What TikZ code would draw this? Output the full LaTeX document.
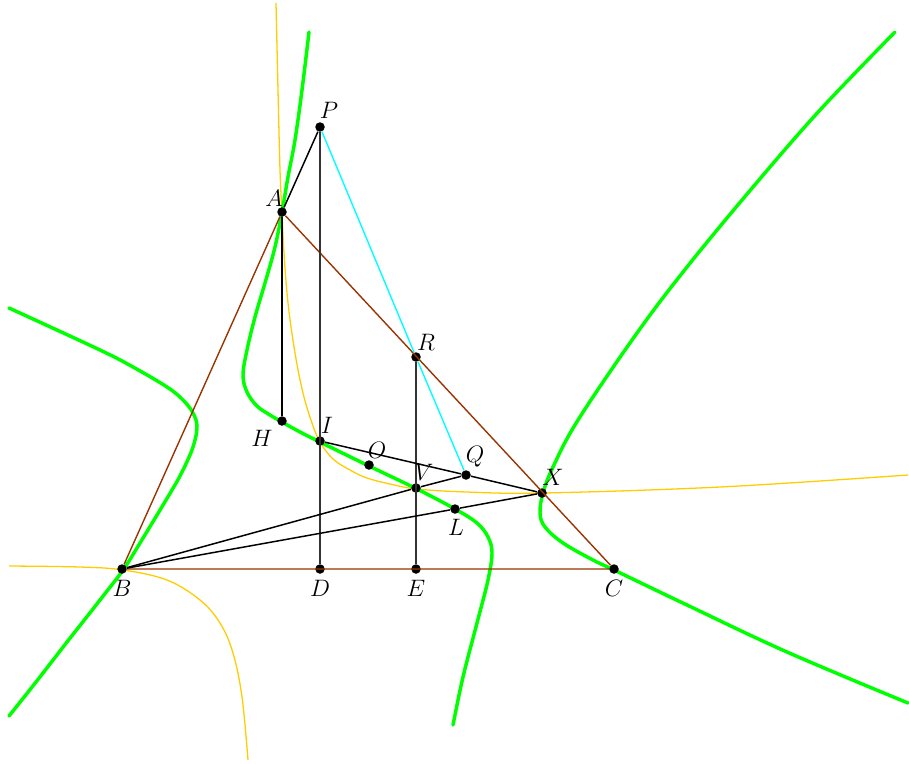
\documentclass[tikz,border=0pt]{standalone}
\definecolor{cubgreen}{RGB}{0,255,0}
\definecolor{hypyellow}{RGB}{255,204,0}
\definecolor{tribrown}{RGB}{153,51,0}
\definecolor{lncyan}{RGB}{0,255,255}
\begin{document}
\begin{tikzpicture}[x=0.505pt,y=-0.505pt,
  cubic/.style={cubgreen,line width=1.75pt,line cap=round},
  hyper/.style={hypyellow,line width=0.65pt},
  side/.style={tribrown,line width=0.7pt},
  seg/.style={black,line width=0.75pt},
  vseg/.style={black!80,line width=1pt},
  cyanseg/.style={lncyan,line width=0.7pt},
  pt/.style={circle,fill=black,inner sep=0pt,minimum size=4.8pt},
  lab/.style={inner sep=0pt,font=\fontsize{12}{14}\selectfont}]
\useasboundingbox (0,0) rectangle (909,763);
% yellow conic
\draw[hyper] plot[smooth,tension=0.6] coordinates {(276,3) (278,90) (280,170) (282,213) (284,253) (288,303) (295,353) (303,393) (312,423) (320,442) (333,459) (350,470) (367,478) (390,484) (417,489) (467,492) (543,493) (720,487) (908,475)};
\draw[hyper] plot[smooth,tension=0.6] coordinates {(9,566) (80,567) (123,570) (167,580) (200,600) (220,623) (233,653) (242,697) (248,760)};
% green cubic
\draw[cubic] plot[smooth,tension=0.6] coordinates {(309,32) (302,90) (295,140) (288,177) (282,212) (275,247) (265,283) (255,317) (247,350) (243,375) (247,392) (257,406) (270,415) (282,422) (300,432) (320,442) (369,466) (417,489) (455,509) (477,523) (488,537) (492,553) (488,580) (477,623) (463,677) (453,725)};
\draw[cubic] plot[smooth,tension=0.6] coordinates {(9,308) (100,350) (133,367) (167,387) (183,400) (193,413) (197,427) (193,447) (183,470) (172,490) (140,543) (123,570) (100,600) (67,642) (36,682) (9,716)};
\draw[cubic] plot[smooth,tension=0.6] coordinates {(895,32) (820,110) (753,187) (687,267) (637,333) (578,420) (553,467) (543,493) (540,513) (545,527) (563,543) (593,560) (614,570) (687,605) (787,652) (908,703)};
% points
\node[pt] (P) at (320,127) {};
\node[pt] (A) at (282,212) {};
\node[pt] (R) at (416,357) {};
\node[pt] (H) at (282,421) {};
\node[pt] (I) at (320,441) {};
\node[pt] (O) at (369,465) {};
\node[pt] (Q) at (466,475) {};
\node[pt] (V) at (416,488) {};
\node[pt] (X) at (542,493) {};
\node[pt] (L) at (455,509) {};
\node[pt] (B) at (122,569) {};
\node[pt] (D) at (320,569) {};
\node[pt] (E) at (416,569) {};
\node[pt] (C) at (614,569) {};
% lines
\draw[side] (A) -- (B) -- (C) -- (A);
\draw[seg] (P) -- (A);
\draw[vseg] (P) -- (D);
\draw[seg] (A) -- (H);
\draw[vseg] (R) -- (E);
\draw[seg] (I) -- (Q) -- (X);
\draw[seg] (B) -- (V) -- (Q);
\draw[seg] (B) -- (L) -- (X);
\draw[cyanseg] (P) -- (R) -- (Q);
% labels
\node[lab] (lP) at (329,110) {$P$};
\node[lab] (lA) at (274,198) {$A$};
\node[lab] (lR) at (426,342) {$R$};
\node[lab] (lH) at (262,438) {$H$};
\node[lab] (lI) at (327,425) {$I$};
\node[lab] (lO) at (377,450) {$O$};
\node[lab] (lQ) at (475,457) {$Q$};
\node[lab] (lV) at (424,472) {$V$};
\node[lab] (lX) at (553,477) {$X$};
\node[lab] (lL) at (456,527) {$L$};
\node[lab] (lB) at (122,588) {$B$};
\node[lab] (lD) at (320,588) {$D$};
\node[lab] (lE) at (416,588) {$E$};
\node[lab] (lC) at (614,588) {$C$};
\end{tikzpicture}
\end{document}
